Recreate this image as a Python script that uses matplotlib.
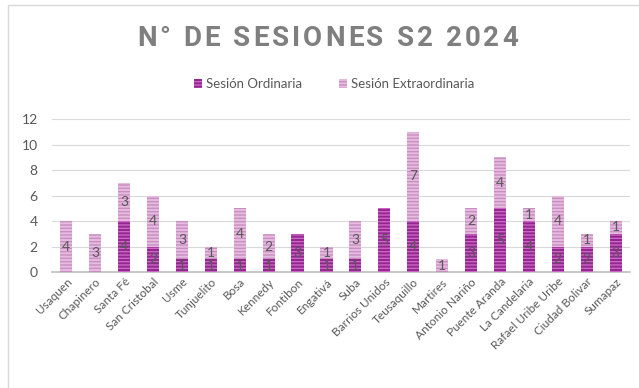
import numpy as np
import matplotlib.pyplot as plt
from matplotlib.patches import Patch

localidades = ['Usaquen', 'Chapinero', 'Santa Fé', 'San Cristobal', 'Usme', 'Tunjuelito',
               'Bosa', 'Kennedy', 'Fontibon', 'Engativá', 'Suba', 'Barrios Unidos',
               'Teusaquillo', 'Martires', 'Antonio Nariño', 'Puente Aranda', 'La Candelaria',
               'Rafael Uribe Uribe', 'Ciudad Bolivar', 'Sumapaz']
ordinaria = [0, 0, 4, 2, 1, 1, 1, 1, 3, 1, 1, 5, 4, 0, 3, 5, 4, 2, 2, 3]
extraordinaria = [4, 3, 3, 4, 3, 1, 4, 2, 0, 1, 3, 0, 7, 1, 2, 4, 1, 4, 1, 1]

plt.rcParams['font.family'] = ['Lato', 'DejaVu Sans']
plt.rcParams['hatch.linewidth'] = 1.0

gray = '#595959'
ord_face, ord_hatch = '#93278f', '#cc66c4'
ext_face, ext_hatch = '#e6bbe0', '#c98fc1'

fig = plt.figure(figsize=(6.39, 3.88), dpi=100)
ax = fig.add_axes([0.081, 0.299, 0.905, 0.394])

x = np.arange(len(localidades))
w = 0.42
b1 = ax.bar(x, ordinaria, w, color=ord_face, edgecolor=ord_hatch, linewidth=0,
            hatch='-----', zorder=3)
b2 = ax.bar(x, extraordinaria, w, bottom=ordinaria, color=ext_face, edgecolor=ext_hatch,
            linewidth=0, hatch='-----', zorder=3)

for bars, vals in ((b1, ordinaria), (b2, extraordinaria)):
    labels = [str(v) if v > 0 else '' for v in vals]
    ax.bar_label(bars, labels=labels, label_type='center', color=gray, fontsize=10, zorder=4)

ax.set_xlim(-0.5, len(localidades) - 0.5)
ax.set_ylim(0, 12)
ax.set_yticks(range(0, 13, 2))
ax.set_xticks(x)
ax.set_xticklabels(localidades, rotation=45, ha='right', rotation_mode='anchor',
                   fontsize=8.5, color=gray)
ax.tick_params(axis='y', labelsize=10, colors=gray, length=0, pad=10)
ax.tick_params(axis='x', length=0, pad=3)
ax.grid(axis='y', color='#d9d9d9', linewidth=0.8, zorder=0)
for s in ('top', 'right', 'left'):
    ax.spines[s].set_visible(False)
ax.spines['bottom'].set_color('#bfbfbf')
ax.spines['bottom'].set_linewidth(1.2)

# title with letter spacing, drawn char by char
title = 'N° DE SESIONES S2 2024'
renderer = fig.canvas.get_renderer()
props = dict(fontsize=20, fontweight='bold', color='#7f7f7f', family='Roboto',
             va='center', ha='left')
widths = []
for ch in title:
    if ch == ' ':
        widths.append(7.0)
        continue
    t = fig.text(0, 0, ch, **props)
    widths.append(t.get_window_extent(renderer).width)
    t.remove()
x0, x1 = 137, 518
track = (x1 - x0 - sum(widths)) / (len(title) - 1)
pos = x0
for ch, cw in zip(title, widths):
    if ch != ' ':
        fig.text(pos / 639, 0.902, ch, **props)
    pos += cw + track

handles = [Patch(facecolor=ord_face, edgecolor=ord_hatch, linewidth=0, hatch='-----'),
           Patch(facecolor=ext_face, edgecolor=ext_hatch, linewidth=0, hatch='-----')]
fig.legend(handles, ['Sesión Ordinaria', 'Sesión Extraordinaria'], loc='center',
           bbox_to_anchor=(0.523, 0.783), ncol=2, frameon=False, fontsize=9.5,
           labelcolor=gray, handlelength=0.6, handleheight=0.6, handletextpad=0.3,
           columnspacing=2.8)

fig.patches.append(plt.Rectangle((0.013, -0.1), 1.2, 1.087, transform=fig.transFigure,
                                 fill=False, edgecolor='#d9d9d9', linewidth=1))

fig.savefig('out.png', dpi=100)
